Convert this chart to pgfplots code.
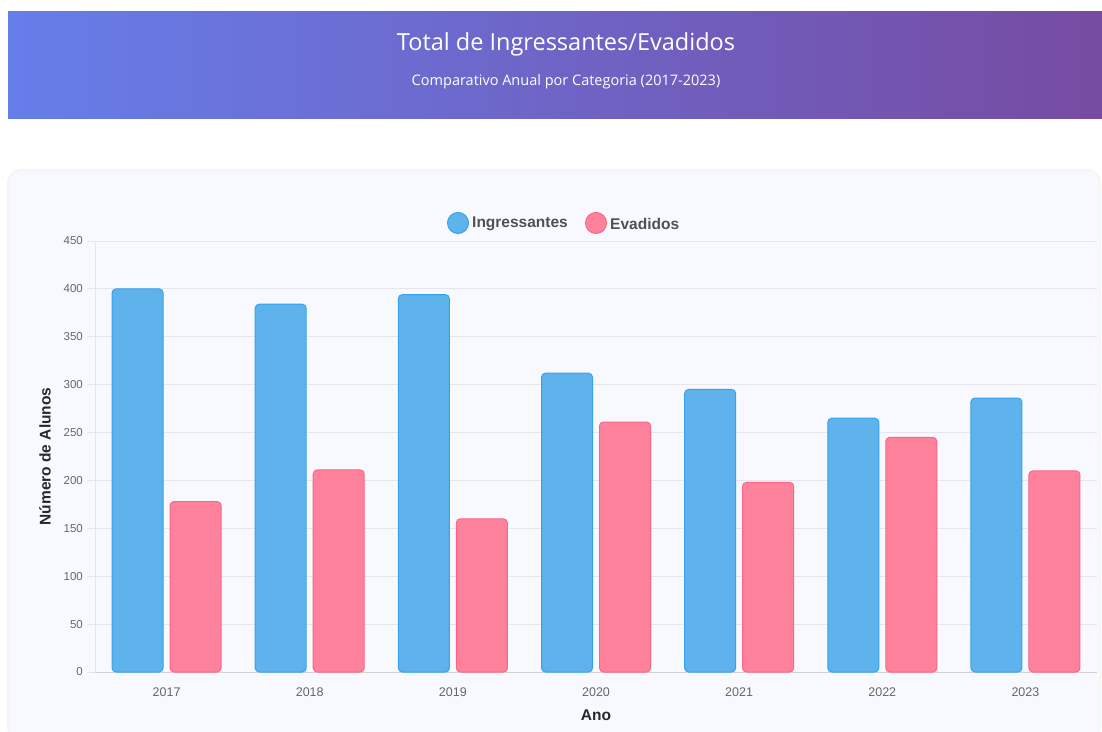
\documentclass[border=0pt]{standalone}
\usepackage{fontspec}
\setmainfont{Liberation Sans}
\newfontfamily\headfont{Open Sans}
\usepackage{pgfplots}
\pgfplotsset{compat=1.18}
\definecolor{hdleft}{RGB}{102,126,234}
\definecolor{hdright}{RGB}{118,75,162}
\definecolor{cardbg}{RGB}{248,249,254}
\definecolor{ingfill}{RGB}{94,179,236}
\definecolor{ingline}{RGB}{54,162,235}
\definecolor{evafill}{RGB}{255,130,157}
\definecolor{evaline}{RGB}{255,99,132}
\definecolor{gridc}{RGB}{229,229,235}
\definecolor{tickc}{RGB}{102,102,102}
\definecolor{labc}{RGB}{40,40,40}
\definecolor{legc}{RGB}{80,80,80}
\begin{document}
\begin{tikzpicture}
\useasboundingbox (0pt,0pt) rectangle (1102pt,731pt);
\fill[white] (0pt,0pt) rectangle (1102pt,731pt);
% header
\shade[left color=hdleft, right color=hdright] (8pt,612pt) rectangle (1102pt,719pt);
\node[text=white, font=\headfont\fontsize{23.5}{27}\selectfont] at (566pt,687pt) {Total de Ingressantes/Evadidos};
\node[text=white, font=\headfont\fontsize{14.5}{17}\selectfont] at (566pt,649pt) {Comparativo Anual por Categoria (2017-2023)};
% card
\fill[rounded corners=14pt, gray!8] (7pt,-10pt) rectangle (1101pt,562pt);
\fill[rounded corners=14pt, cardbg] (9pt,-10pt) rectangle (1100pt,560pt);
\begin{axis}[
  at={(95pt,59pt)}, anchor=south west,
  scale only axis, width=1002pt, height=431pt,
  xmin=-0.5, xmax=6.5, ymin=0, ymax=450,
  ytick distance=50,
  xtick={0,1,2,3,4,5,6},
  xticklabels={2017,2018,2019,2020,2021,2022,2023},
  ybar=7pt, bar width=51pt,
  axis lines=left,
  axis line style={-, draw=gridc},
  x axis line style={draw=gray!35},
  ymajorgrids, grid style={gridc, line width=0.8pt},
  tick align=outside, major tick length=8pt,
  ytick style={draw=gridc, line width=0.8pt},
  xtick style={draw=none},
  /pgf/number format/assume math mode=true,
  tick label style={font=\fontsize{11.5}{13}\selectfont, text=tickc, inner sep=0pt},
  yticklabel style={anchor=east, xshift=-4pt},
  xticklabel style={anchor=center, yshift=-12pt, font=\fontsize{12.5}{14}\selectfont},
  xlabel={Ano}, ylabel={Número de Alunos},
  label style={font=\bfseries\fontsize{15.5}{17}\selectfont, text=labc},
  xlabel style={at={(axis description cs:0.5,0)}, anchor=center, yshift=-43pt},
  ylabel style={at={(axis description cs:0,0.5)}, anchor=center, yshift=50pt},
  every axis plot/.append style={rounded corners=4pt, line width=1pt},
  clip=false,
]
\addplot[fill=ingfill, draw=ingline] coordinates {(0,400) (1,384) (2,394) (3,312) (4,295) (5,265) (6,286)};
\addplot[fill=evafill, draw=evaline] coordinates {(0,178) (1,211) (2,160) (3,261) (4,198) (5,245) (6,210)};
\end{axis}
% legend
\draw[ingline, fill=ingfill, line width=1pt] (458pt,508pt) circle (10.5pt);
\node[anchor=west, text=legc, font=\bfseries\fontsize{15.5}{17}\selectfont, inner sep=0pt] at (472pt,507pt) {Ingressantes};
\draw[evaline, fill=evafill, line width=1pt] (596pt,508pt) circle (10.5pt);
\node[anchor=west, text=legc, font=\bfseries\fontsize{15.5}{17}\selectfont, inner sep=0pt] at (610pt,507pt) {Evadidos};
\end{tikzpicture}
\end{document}
